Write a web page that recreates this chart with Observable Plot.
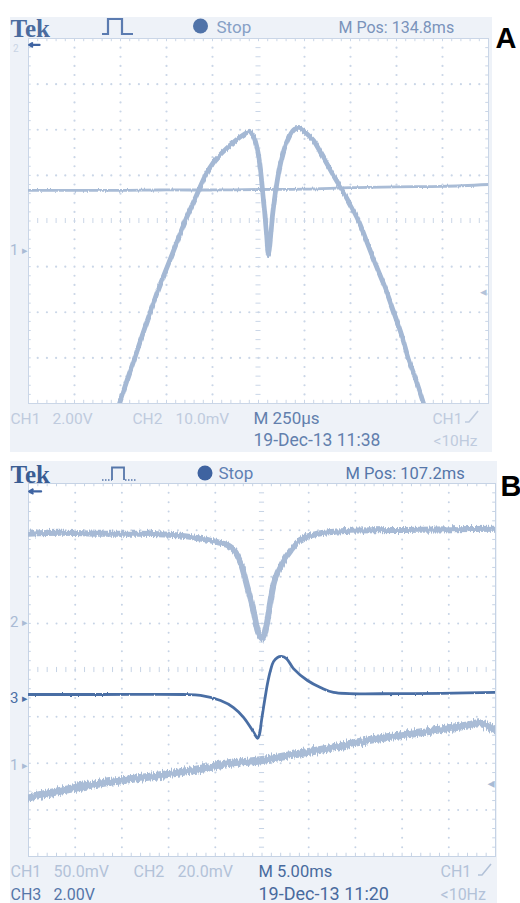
<!DOCTYPE html>
<html>
<head>
<meta charset="utf-8">
<script src="https://cdn.jsdelivr.net/npm/d3@7"></script>
<script src="https://cdn.jsdelivr.net/npm/@observablehq/plot@0.6"></script>
<style>
html,body{margin:0;padding:0;background:#fff;}
#root{position:relative;width:520px;height:903px;overflow:hidden;}
.bezel{position:absolute;background:#eef2f8;}
#root svg{position:absolute;left:0;}
</style>
</head>
<body>
<div id="root">
  <div class="bezel" style="left:10px;top:17px;width:482px;height:435px"></div>
  <div class="bezel" style="left:10px;top:461px;width:487px;height:442px"></div>
</div>
<script>
// ===================== DATA =====================
// Panel A — timebase M 250 µs/div; time in µs
const aTimeCh1 = [-755,-717,-674,-630,-587,-543,-495,-446,-397,-342,-288,-245,-196,-125,-71,-49,-27,-5,11,22,33,43,54,65,76,92,114,141,168,196,223,261,299,337,408,478,543,592,641,690,734,777,815,859,897];
// CH1 (2.00 V/div), volts
const aCh1 = [-6.71,-5.75,-4.74,-3.68,-2.68,-1.67,-0.70,0.31,1.32,2.32,3.29,3.86,4.30,4.82,5.13,5.22,5.00,4.39,3.51,2.63,1.75,0.79,-0.18,0.53,1.54,2.54,3.60,4.47,5.00,5.31,5.35,5.13,4.82,4.30,3.29,2.32,1.32,0.31,-0.70,-1.67,-2.68,-3.68,-4.74,-5.75,-6.71];
const aTimeCh2 = [-1250,-1000,-750,-500,-250,0,250,500,750,1000,1250];
// CH2 (10.0 mV/div), millivolts
const aCh2 = [-31.8,-31.8,-31.8,-31.7,-31.7,-31.6,-31.5,-31.2,-31.0,-30.9,-30.5];

// Panel B — timebase M 5.00 ms/div; time in ms
const bTimeCh2 = [-25.0,-21.57,-17.29,-13.01,-8.73,-6.58,-4.98,-3.59,-2.94,-2.30,-1.55,-0.91,-0.37,0.05,0.48,0.91,1.34,2.19,3.05,4.12,5.94,9.48,16.97,25.0];
// CH2 (20.0 mV/div), millivolts
const bCh2 = [38.1,38.5,38.1,38.1,37.3,36.0,34.7,33.0,30.8,25.7,15.0,5.1,-4.7,-6.8,-1.3,9.4,18.0,25.7,30.8,35.5,38.1,39.4,39.8,40.3];
const bTimeCh3 = [-25.0,-17.29,-8.40,-6.58,-4.44,-3.05,-1.98,-1.02,-0.70,-0.48,-0.27,-0.05,0.16,0.37,0.59,0.91,1.23,1.66,2.09,2.62,3.37,4.87,6.26,7.66,14.83,25.0];
// CH3 (2.00 V/div), volts
const bCh3 = [0.17,0.17,0.17,0.13,-0.09,-0.39,-0.81,-1.37,-1.59,-1.71,-1.54,-0.94,-0.39,0.13,0.64,1.20,1.58,1.76,1.80,1.71,1.28,0.77,0.47,0.26,0.21,0.26];
const bTimeCh1 = [-25.0,-17.29,-9.48,-3.05,-0.16,4.12,7.66,11.30,14.83,18.36,22.00,23.39,25.0];
// CH1 (50.0 mV/div), millivolts
const bCh1 = [-34.3,-19.3,-8.6,2.1,5.4,12.9,19.3,26.8,32.1,37.5,42.8,45.0,37.5];

// Readout texts
const headerA = {logo:"Tek", state:"Stop", pos:"M Pos: 134.8ms", tag:"A"};
const footerA = {ch1:"CH1", ch1v:"2.00V", ch2:"CH2", ch2v:"10.0mV", time:"M 250µs", trig:"CH1", date:"19-Dec-13 11:38", freq:"<10Hz"};
const headerB = {logo:"Tek", state:"Stop", pos:"M Pos: 107.2ms", tag:"B"};
const footerB = {ch1:"CH1", ch1v:"50.0mV", ch2:"CH2", ch2v:"20.0mV", time:"M 5.00ms", trig:"CH1", ch3:"CH3", ch3v:"2.00V", date:"19-Dec-13 11:20", freq:"<10Hz"};

// Scope settings: units/div and ground-marker position (divisions from centre)
const setA = {tDiv:250, ch1:{perDiv:2, gnd:-0.647}, ch2:{perDiv:10, gnd:3.85}, trigLevel:-1.55};
const setB = {tDiv:5, ch1:{perDiv:50, gnd:-2.045}, ch2:{perDiv:20, gnd:1.017}, ch3:{perDiv:2, gnd:-0.610}, trigLevel:-2.43};

// ===================== HELPERS =====================
const FONT = "Roboto, 'Noto Sans', sans-serif";
const SERIF = "'Liberation Serif', 'DejaVu Serif', serif";
const SANS = "'Liberation Sans', Arial, sans-serif";
const ns = "http://www.w3.org/2000/svg";
const toDiv = (times, vals, tDiv, ch) => times.map((t, i) => ({x: t / tDiv, y: vals[i] / ch.perDiv + ch.gnd}));

function gridMarks(col, r) {
  const minorX = d3.range(-25, 26).map(i => i / 5);
  const minorY = d3.range(-20, 21).map(i => i / 5);
  const vLines = [-4,-3,-2,-1,1,2,3,4], hLines = [-3,-2,-1,1,2,3];
  const dots = [];
  for (const x of vLines) for (const y of minorY) if (Math.abs(y) < 4) dots.push([x, y]);
  for (const y of hLines) for (const x of minorX) if (Math.abs(x) < 5 && !vLines.includes(x)) dots.push([x, y]);
  return [
    Plot.frame({fill: "white"}),
    Plot.dot(dots, {x: d => d[0], y: d => d[1], r, fill: col}),
    Plot.ruleX(minorX, {x: d => d, y1: -0.055, y2: 0.055, stroke: col}),
    Plot.ruleY(minorY, {y: d => d, x1: -0.055, x2: 0.055, stroke: col}),
    Plot.ruleX(minorX, {x: d => d, y1: 4, y2: 3.93, stroke: col}),
    Plot.ruleX(minorX, {x: d => d, y1: -4, y2: -3.93, stroke: col}),
    Plot.ruleY(minorY, {y: d => d, x1: -5, x2: -4.94, stroke: col}),
    Plot.ruleY(minorY, {y: d => d, x1: 5, x2: 4.94, stroke: col}),
    Plot.frame({stroke: col})
  ];
}

const trace = (data, col, w) => Plot.line(data, {x: "x", y: "y", curve: "catmull-rom", clip: true,
  stroke: col, strokeWidth: w, strokeLinejoin: "round", strokeLinecap: "round"});

function groundMark(label, g, col) {
  return [
    Plot.text([label], {x: -5, y: g, dx: -10, textAnchor: "end", fill: col, fontSize: 15, fontFamily: FONT}),
    Plot.text(["▸"], {x: -5, y: g, dx: -1, textAnchor: "end", fill: col, fontSize: 11, fontFamily: "DejaVu Sans"})
  ];
}

const T = (m, str, X, Y, o = {}) => Plot.text([str], {
  frameAnchor: "top-left", dx: X - m.left, dy: Y - m.top,
  textAnchor: o.anchor || "start", lineAnchor: "bottom",
  fill: o.fill || "#5577aa", fontSize: o.size || 16, fontWeight: o.weight || "normal",
  fontFamily: o.family || FONT
});

// signal-noise texture on trace strokes (vertical jitter only)
function addNoise(svg, h, scales) {
  const defs = document.createElementNS(ns, "defs");
  defs.innerHTML = scales.map((s, i) => `
    <filter id="${svg.id}n${i}" filterUnits="userSpaceOnUse" x="0" y="0" width="520" height="${h}">
      <feTurbulence type="fractalNoise" baseFrequency="0.8 0.06" numOctaves="2" seed="${4 + i}" result="t"/>
      <feColorMatrix in="t" type="matrix" values="0 0 0 0 0.5  0 1 0 0 0  0 0 0 0 0  0 0 0 0 1" result="m"/>
      <feDisplacementMap in="SourceGraphic" in2="m" scale="${s}" xChannelSelector="R" yChannelSelector="G"/>
    </filter>`).join("");
  svg.insertBefore(defs, svg.firstChild);
  const lines = svg.querySelectorAll('g[aria-label="line"]');
  scales.forEach((s, i) => { if (lines[i] && s > 0) lines[i].setAttribute("filter", `url(#${svg.id}n${i})`); });
}

// ===================== PANEL A =====================
const mA = {top: 38, right: 32, bottom: 52, left: 28};
const aC1 = toDiv(aTimeCh1, aCh1, setA.tDiv, setA.ch1);
const aC2 = toDiv(aTimeCh2, aCh2, setA.tDiv, setA.ch2);
const fadedA = "#bfcbde";
const plotA = Plot.plot({
  width: 520, height: 455,
  marginTop: mA.top, marginRight: mA.right, marginBottom: mA.bottom, marginLeft: mA.left,
  x: {domain: [-5, 5], axis: null}, y: {domain: [-4, 4], axis: null},
  style: {background: "transparent", overflow: "visible"},
  marks: [
    ...gridMarks("#cad6e7", 1.1),
    trace(aC2, "#a9bcd6", 2.8),
    trace(aC1, "#a4b8d4", 4.8),
    ...groundMark("1", setA.ch1.gnd, "#a9bbd5"),
    Plot.text(["2"], {x: -5, y: 4, dx: -10, dy: 10, textAnchor: "end", fill: "#c9d4e4", fontSize: 10, fontFamily: FONT}),
    Plot.arrow([0], {x1: -4.76, y1: 3.86, x2: -4.985, y2: 3.86, stroke: "#3f64a2", strokeWidth: 2.2, headLength: 7}),
    Plot.text(["◂"], {x: 5, y: setA.trigLevel, dx: -2, textAnchor: "end", fill: "#b3c3da", fontSize: 13, fontFamily: "DejaVu Sans"}),
    T(mA, headerA.logo, 10, 36, {family: SERIF, weight: "bold", size: 25, fill: "#4a6b9e"}),
    T(mA, headerA.state, 216, 32, {size: 17, fill: "#86a0c6"}),
    T(mA, headerA.pos, 338, 32, {size: 16, fill: "#7a93bb"}),
    T(mA, headerA.tag, 495, 47, {family: SANS, weight: "bold", size: 29, fill: "#000"}),
    T(mA, footerA.ch1, 10, 423, {size: 15.5, fill: fadedA}),
    T(mA, footerA.ch1v, 52, 423, {size: 15.5, fill: fadedA}),
    T(mA, footerA.ch2, 132, 423, {size: 15.5, fill: fadedA}),
    T(mA, footerA.ch2v, 175, 423, {size: 15.5, fill: fadedA}),
    T(mA, footerA.time, 253, 423, {size: 17, fill: "#627fad"}),
    T(mA, footerA.trig, 432, 423, {size: 15.5, fill: fadedA}),
    T(mA, footerA.date, 253, 445, {size: 17.5, fill: "#627fad"}),
    T(mA, footerA.freq, 433, 445, {size: 15.5, fill: fadedA})
  ]
});
plotA.id = "scopeA";
plotA.style.top = "0px";
addNoise(plotA, 455, [2.5, 5]);
document.getElementById("root").appendChild(plotA);

// ===================== PANEL B =====================
const mB = {top: 28, right: 25, bottom: 47, left: 28};
const bC2 = toDiv(bTimeCh2, bCh2, setB.tDiv, setB.ch2);
const bC3 = toDiv(bTimeCh3, bCh3, setB.tDiv, setB.ch3);
const bC1 = toDiv(bTimeCh1, bCh1, setB.tDiv, setB.ch1);
const fadedB = "#b3c2d8";
const oy = 455;
const plotB = Plot.plot({
  width: 520, height: 448,
  marginTop: mB.top, marginRight: mB.right, marginBottom: mB.bottom, marginLeft: mB.left,
  x: {domain: [-5, 5], axis: null}, y: {domain: [-4, 4], axis: null},
  style: {background: "transparent", overflow: "visible"},
  marks: [
    ...gridMarks("#c6d3e5", 1.0),
    trace(bC1, "#a9bcd6", 8),
    trace(bC2, "#a7bad5", 6),
    trace(bC3, "#4a6ea4", 2.8),
    ...groundMark("2", setB.ch2.gnd, "#a9bbd5"),
    ...groundMark("3", setB.ch3.gnd, "#4a6ea4"),
    ...groundMark("1", setB.ch1.gnd, "#a9bbd5"),
    Plot.arrow([0], {x1: -4.73, y1: 3.83, x2: -4.985, y2: 3.83, stroke: "#3f64a2", strokeWidth: 2.2, headLength: 7}),
    Plot.text(["◂"], {x: 5, y: setB.trigLevel, dx: -1, textAnchor: "end", fill: "#a9bbd5", fontSize: 14, fontFamily: "DejaVu Sans"}),
    T(mB, headerB.logo, 10, 482 - oy, {family: SERIF, weight: "bold", size: 25, fill: "#3a5d93"}),
    T(mB, headerB.state, 218, 478 - oy, {size: 17, fill: "#5f80b3"}),
    T(mB, headerB.pos, 345, 478 - oy, {size: 16.5, fill: "#5576a9"}),
    T(mB, headerB.tag, 500, 495 - oy, {family: SANS, weight: "bold", size: 29, fill: "#000"}),
    T(mB, footerB.ch1, 10, 876 - oy, {size: 16, fill: fadedB}),
    T(mB, footerB.ch1v, 53, 876 - oy, {size: 16, fill: fadedB}),
    T(mB, footerB.ch2, 133, 876 - oy, {size: 16, fill: fadedB}),
    T(mB, footerB.ch2v, 177, 876 - oy, {size: 16, fill: fadedB}),
    T(mB, footerB.time, 258, 876 - oy, {size: 16.5, fill: "#486a9e"}),
    T(mB, footerB.trig, 440, 876 - oy, {size: 16, fill: fadedB}),
    T(mB, footerB.ch3, 10, 899 - oy, {size: 16, fill: "#5576a9"}),
    T(mB, footerB.ch3v, 53, 899 - oy, {size: 16, fill: "#5576a9"}),
    T(mB, footerB.date, 258, 899 - oy, {size: 18, fill: "#486a9e"}),
    T(mB, footerB.freq, 440, 899 - oy, {size: 16, fill: fadedB})
  ]
});
plotB.id = "scopeB";
plotB.style.top = oy + "px";
addNoise(plotB, 448, [8, 6.5, 2]);
document.getElementById("root").appendChild(plotB);

// ===================== status icons (decoration) =====================
const icons = document.createElementNS(ns, "svg");
icons.setAttribute("width", 520); icons.setAttribute("height", 903);
icons.style.top = "0px"; icons.style.pointerEvents = "none";
icons.innerHTML = `
  <path d="M102,34 H108 V19 H122 V34 H133" fill="none" stroke="#5b7bb0" stroke-width="2.2"/>
  <circle cx="200.5" cy="26" r="7.5" fill="#5073a9"/>
  <path d="M465,422 L469,422 L478,411" fill="none" stroke="${fadedA}" stroke-width="1.6"/>
  <path d="M102,480 H112" fill="none" stroke="#5576a9" stroke-width="1.6" stroke-dasharray="1.5 1.5"/>
  <path d="M112,480 V467.5 H124 V480" fill="none" stroke="#5576a9" stroke-width="1.8"/>
  <path d="M125,480 H137" fill="none" stroke="#5576a9" stroke-width="1.6" stroke-dasharray="1.5 1.5"/>
  <circle cx="205" cy="473" r="7.5" fill="#3f63a0"/>
  <path d="M478,875 L482,875 L491,864" fill="none" stroke="${fadedB}" stroke-width="1.6"/>
`;
document.getElementById("root").appendChild(icons);
</script>
</body>
</html>
